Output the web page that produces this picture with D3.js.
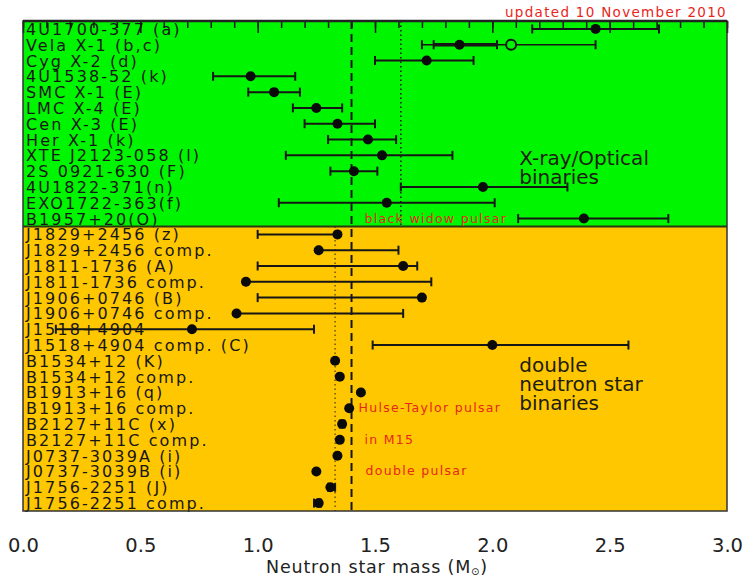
<!DOCTYPE html>
<html>
<head>
<meta charset="utf-8">
<script src="https://cdn.jsdelivr.net/npm/d3@7"></script>
<style>
  html, body { margin: 0; padding: 0; background: #fff; }
  svg { display: block; }
</style>
</head>
<body>
<svg id="chart" width="750" height="578"></svg>
<script>
// ---------- DATA ----------
const xrayNames = ["4U1700-377 (a)", "Vela X-1 (b,c)", "Cyg X-2 (d)", "4U1538-52 (k)", "SMC X-1 (E)",
  "LMC X-4 (E)", "Cen X-3 (E)", "Her X-1 (k)", "XTE J2123-058 (l)", "2S 0921-630 (F)",
  "4U1822-371(n)", "EXO1722-363(f)", "B1957+20(O)"];
const xrayMass = [2.44, 1.86, 1.72, 0.97, 1.07, 1.25, 1.34, 1.47, 1.53, 1.41, 1.96, 1.55, 2.39];
const xrayLow  = [2.17, 1.75, 1.50, 0.81, 0.96, 1.15, 1.20, 1.30, 1.12, 1.31, 1.61, 1.09, 2.11];
const xrayHigh = [2.71, 2.02, 1.92, 1.16, 1.18, 1.36, 1.50, 1.59, 1.83, 1.51, 2.32, 2.01, 2.75];

// alternative (open-circle) estimate for Vela X-1
const velaAltMass = 2.08, velaAltLow = 1.70, velaAltHigh = 2.44;

const dnsNames = ["J1829+2456 (z)", "J1829+2456 comp.", "J1811-1736 (A)", "J1811-1736 comp.",
  "J1906+0746 (B)", "J1906+0746 comp.", "J1518+4904", "J1518+4904 comp. (C)",
  "B1534+12 (K)", "B1534+12 comp.", "B1913+16 (q)", "B1913+16 comp.",
  "B2127+11C (x)", "B2127+11C comp.", "J0737-3039A (i)", "J0737-3039B (i)",
  "J1756-2251 (J)", "J1756-2251 comp."];
const dnsMass = [1.34, 1.26, 1.62, 0.95, 1.70, 0.91, 0.72, 2.00, 1.33, 1.35, 1.44, 1.39, 1.36, 1.35, 1.34, 1.25, 1.31, 1.26];
const dnsLow  = [1.00, 1.26, 1.00, 0.95, 1.00, 0.91, 0.14, 1.49, null, null, null, null, 1.35, null, null, null, 1.30, 1.24];
const dnsHigh = [1.34, 1.60, 1.68, 1.74, 1.70, 1.62, 1.24, 2.58, null, null, null, null, 1.37, null, null, null, 1.33, 1.27];

const xTicks = [0.0, 0.5, 1.0, 1.5, 2.0, 2.5, 3.0];
const dashedMass = 1.40;        // full height dashed line
const xrayMeanMass = 1.61;      // dotted line, upper panel
const dnsMeanMass = 1.33;       // dotted line, lower panel

const notes = [
  { text: "black widow pulsar", row: "B1957+20(O)", x: 1.455 },
  { text: "Hulse-Taylor pulsar", row: "B1913+16 comp.", x: 1.43 },
  { text: "in M15", row: "B2127+11C comp.", x: 1.455 },
  { text: "double pulsar", row: "J0737-3039B (i)", x: 1.46 }
];
const xrayGroupLines = ["X-ray/Optical", "binaries"];
const dnsGroupLines = ["double", "neutron star", "binaries"];

// ---------- LAYOUT ----------
const svg = d3.select("#chart");
const pL = 23, pR = 727, pT = 21, pB = 511;
const allNames = xrayNames.concat(dnsNames);

const x = d3.scaleLinear().domain([0, 3]).range([pL, pR]);
const y = d3.scaleBand().domain(allNames).range([pT, pB]);
const rowC = n => y(n) + y.bandwidth() / 2;
const split = y(dnsNames[0]);

const GREEN = "#00f600", ORANGE = "#ffc700", INK = "#161616", RED = "#e8261c";

// backgrounds
svg.append("rect").attr("x", pL).attr("y", pT).attr("width", pR - pL).attr("height", split - pT).attr("fill", GREEN);
svg.append("rect").attr("x", pL).attr("y", split).attr("width", pR - pL).attr("height", pB - split).attr("fill", ORANGE);

// top ticks (minor + major)
const minorTicks = d3.range(0, 31).map(i => i / 10);
svg.append("g").attr("transform", `translate(0,${pT})`)
  .call(d3.axisTop(x).tickValues(minorTicks).tickSize(-7).tickFormat(""))
  .call(g => g.select(".domain").remove())
  .call(g => g.selectAll("line").attr("stroke", INK).attr("stroke-width", 1.5));
svg.append("g").attr("transform", `translate(0,${pT})`)
  .call(d3.axisTop(x).tickValues(xTicks).tickSize(-12).tickFormat(""))
  .call(g => g.select(".domain").remove())
  .call(g => g.selectAll("line").attr("stroke", INK).attr("stroke-width", 1.5));

// reference lines
svg.append("line").attr("x1", x(dashedMass)).attr("x2", x(dashedMass)).attr("y1", pT).attr("y2", pB)
  .attr("stroke", INK).attr("stroke-width", 2).attr("stroke-dasharray", "8,5");
svg.append("line").attr("x1", x(xrayMeanMass)).attr("x2", x(xrayMeanMass)).attr("y1", pT).attr("y2", split)
  .attr("stroke", INK).attr("stroke-width", 1.5).attr("stroke-dasharray", "1.5,3");
svg.append("line").attr("x1", x(dnsMeanMass)).attr("x2", x(dnsMeanMass)).attr("y1", split).attr("y2", pB)
  .attr("stroke", "#6a5a00").attr("stroke-width", 1.5).attr("stroke-dasharray", "1.5,3");

// row labels
const labelG = svg.append("g").attr("font-family", "DejaVu Sans, sans-serif").attr("font-size", 16)
  .attr("letter-spacing", 2.1).attr("fill", INK);
labelG.selectAll("text").data(allNames).join("text")
  .attr("x", pL + 3).attr("y", d => rowC(d) + 6).text(d => d);

// error bars
const rows = xrayNames.map((n, i) => ({ name: n, m: xrayMass[i], lo: xrayLow[i], hi: xrayHigh[i] }))
  .concat(dnsNames.map((n, i) => ({ name: n, m: dnsMass[i], lo: dnsLow[i], hi: dnsHigh[i] })));
const eb = svg.append("g").attr("stroke", INK).attr("stroke-width", 2);
function errBar(g, name, lo, hi, w) {
  const cy = rowC(name);
  g.append("line").attr("x1", x(lo)).attr("x2", x(hi)).attr("y1", cy).attr("y2", cy).attr("stroke-width", w);
  g.append("line").attr("x1", x(lo)).attr("x2", x(lo)).attr("y1", cy - 4.5).attr("y2", cy + 4.5).attr("stroke-width", 2);
  g.append("line").attr("x1", x(hi)).attr("x2", x(hi)).attr("y1", cy - 4.5).attr("y2", cy + 4.5).attr("stroke-width", 2);
}
errBar(eb, xrayNames[1], velaAltLow, velaAltHigh, 1.6);
rows.filter(r => r.lo !== null).forEach(r => errBar(eb, r.name, r.lo, r.hi, r.name === xrayNames[1] ? 3.5 : 2));

// points
svg.append("g").selectAll("circle").data(rows).join("circle")
  .attr("cx", d => x(d.m)).attr("cy", d => rowC(d.name)).attr("r", 5).attr("fill", "#0a0a0a");
svg.append("circle").attr("cx", x(velaAltMass)).attr("cy", rowC(xrayNames[1])).attr("r", 5)
  .attr("fill", GREEN).attr("stroke", INK).attr("stroke-width", 2);

// separators / frame
svg.append("line").attr("x1", pL).attr("x2", pR).attr("y1", split).attr("y2", split).attr("stroke", "#2a3a10").attr("stroke-width", 2);
svg.append("rect").attr("x", pL).attr("y", pT).attr("width", pR - pL).attr("height", pB - pT)
  .attr("fill", "none").attr("stroke", "#333").attr("stroke-width", 1.5);
svg.append("line").attr("x1", pL).attr("x2", pR).attr("y1", pT).attr("y2", pT).attr("stroke", "#222").attr("stroke-width", 2.5);

// annotations
svg.append("g").attr("font-family", "DejaVu Sans, sans-serif").attr("font-size", 12.5).attr("fill", RED)
  .attr("letter-spacing", 1.3)
  .selectAll("text").data(notes).join("text")
  .attr("x", d => x(d.x)).attr("y", d => rowC(d.row) + 4).text(d => d.text);

svg.append("text").attr("x", pR).attr("y", 17).attr("text-anchor", "end")
  .attr("font-family", "DejaVu Sans, sans-serif").attr("font-size", 13.5).attr("letter-spacing", 1.3)
  .attr("fill", RED).text("updated 10 November 2010");

// group labels (multi-line, one text element each)
function groupLabel(lines, row, dy) {
  const t = svg.append("text").attr("x", x(2.115)).attr("y", rowC(row) + dy)
    .attr("font-family", "DejaVu Sans, sans-serif").attr("font-size", 20).attr("fill", "#1c1c10");
  t.selectAll("tspan").data(lines).join("tspan")
    .attr("x", x(2.115)).attr("dy", (d, i) => i === 0 ? 0 : 19).text(d => d);
}
groupLabel(xrayGroupLines, xrayNames[8], 10);
groupLabel(dnsGroupLines, dnsNames[8], 11);

// bottom axis labels
svg.append("g").attr("transform", `translate(0,${pB})`)
  .call(d3.axisBottom(x).tickValues(xTicks).tickSize(0).tickPadding(27).tickFormat(d3.format(".1f")))
  .call(g => g.select(".domain").remove())
  .call(g => g.selectAll("text").attr("font-family", "DejaVu Sans, sans-serif").attr("font-size", 19.5).attr("fill", "#222"));

// axis title
const title = svg.append("text").attr("x", (pL + pR) / 2 + 2).attr("y", 573).attr("text-anchor", "middle")
  .attr("font-family", "DejaVu Sans, sans-serif").attr("font-size", 17.5).attr("letter-spacing", 0.8).attr("fill", "#222");
title.append("tspan").text("Neutron star mass (M");
title.append("tspan").attr("font-size", 10).attr("dy", 2).text("⊙");
title.append("tspan").attr("dy", -2).text(")");
</script>
</body>
</html>
